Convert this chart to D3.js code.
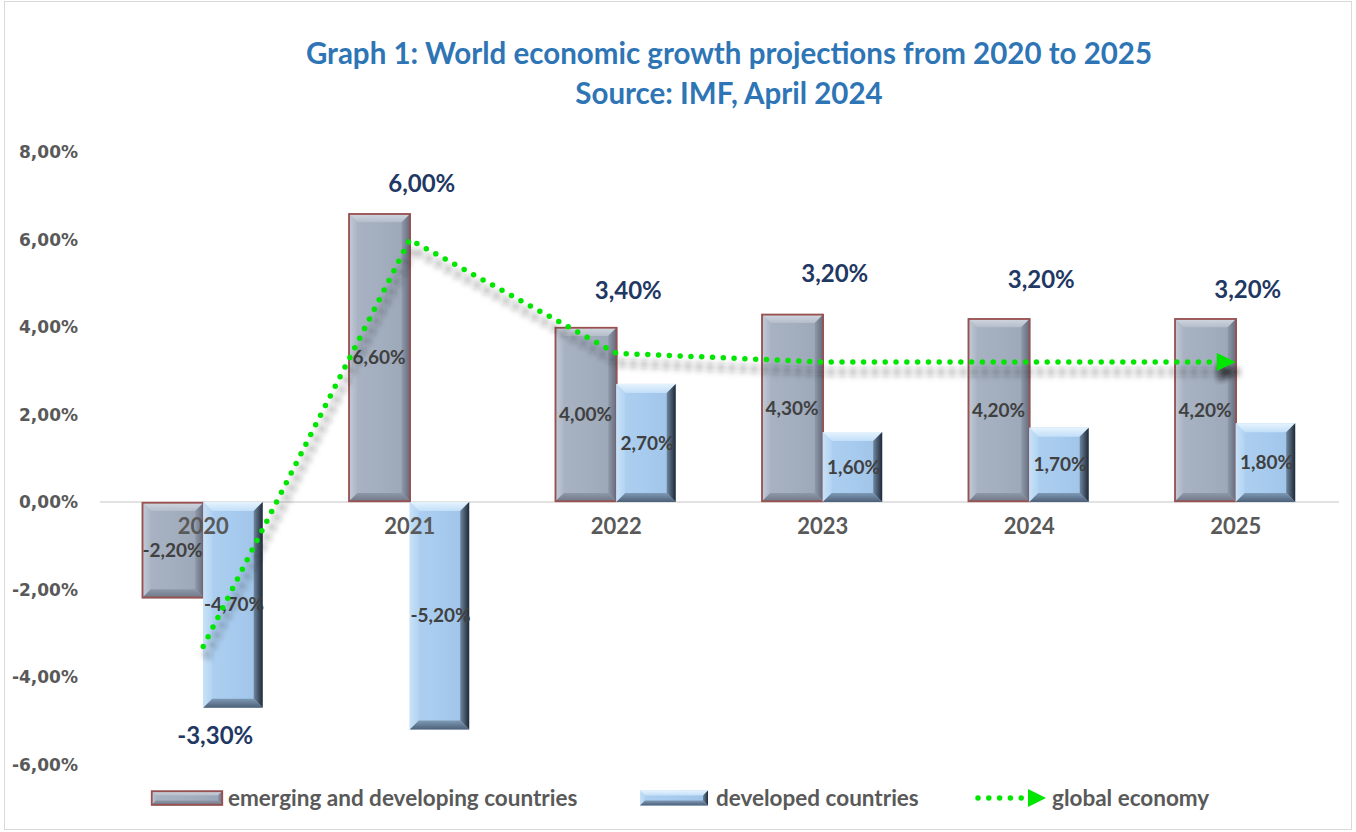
<!DOCTYPE html>
<html>
<head>
<meta charset="utf-8">
<script src="https://cdn.jsdelivr.net/npm/d3@7"></script>
<style>
  html, body { margin: 0; padding: 0; background: #fff; }
  svg { display: block; }
  text { font-family: Lato, "Open Sans", sans-serif; }
</style>
</head>
<body>
<svg id="chart" width="1356" height="832"></svg>
<script>
// ---- data ----
const years = ["2020", "2021", "2022", "2023", "2024", "2025"];
const emerging = [-2.2, 6.6, 4.0, 4.3, 4.2, 4.2];
const developed = [-4.7, -5.2, 2.7, 1.6, 1.7, 1.8];
const globalEconomy = [-3.3, 6.0, 3.4, 3.2, 3.2, 3.2];
const yTicks = [-6, -4, -2, 0, 2, 4, 6, 8];
const seriesNames = ["emerging and developing countries", "developed countries", "global economy"];
const titleLines = ["Graph 1: World economic growth projections from 2020 to 2025", "Source: IMF, April 2024"];
// label placement offsets (px) for the global economy labels
const globalLabelDy = [89, -56, -63, -88, -82, -72];

const fmt = v => (v < 0 ? "-" : "") + Math.abs(v).toFixed(2).replace(".", ",") + "%";

const svg = d3.select("#chart");
const W = 1356, H = 832;

// outer border
svg.append("rect").attr("x", 4.5).attr("y", 1.5).attr("width", W - 9).attr("height", H - 4)
  .attr("fill", "#fff").attr("stroke", "#d9d9d9").attr("stroke-width", 1);

// defs
const defs = svg.append("defs");
const sh = defs.append("filter").attr("id", "lineShadow")
  .attr("x", "-20%").attr("y", "-20%").attr("width", "140%").attr("height", "140%");
sh.append("feGaussianBlur").attr("stdDeviation", 3.2);

function hGrad(id, stops) {
  const g = defs.append("linearGradient").attr("id", id).attr("x1", 0).attr("x2", 1).attr("y1", 0).attr("y2", 0);
  stops.forEach(s => g.append("stop").attr("offset", s[0]).attr("stop-color", s[1]));
}
function vGrad(id, stops) {
  const g = defs.append("linearGradient").attr("id", id).attr("x1", 0).attr("x2", 0).attr("y1", 0).attr("y2", 1);
  stops.forEach(s => g.append("stop").attr("offset", s[0]).attr("stop-color", s[1]));
}
// emerging styles
hGrad("emBase", [[0, "#a9b3c3"], [0.5, "#a3aebf"], [1, "#9aa5b6"]]);
vGrad("emTop", [[0, "#d3d9e2"], [1, "#b4bdca"]]);
hGrad("emLeft", [[0, "#c4ccd7"], [1, "#abb5c4"]]);
hGrad("emRight", [[0, "#8f99a9"], [1, "#5f6878"]]);
vGrad("emBottom", [[0, "#8e98a8"], [1, "#6d7686"]]);
// developed styles
hGrad("dvBase", [[0, "#aed0f1"], [0.5, "#a7cbee"], [1, "#9fc3e6"]]);
vGrad("dvTop", [[0, "#e6f3fe"], [1, "#c2dff8"]]);
hGrad("dvLeft", [[0, "#c8e2f8"], [1, "#b2d3f2"]]);
hGrad("dvRight", [[0, "#6f87a0"], [1, "#1f2835"]]);
vGrad("dvBottom", [[0, "#7f9ab6"], [1, "#4d6078"]]);

// scales
const x = d3.scaleBand().domain(years).range([100, 1339]).padding(0);
const x1 = d3.scaleBand().domain([0, 1]).range([0, x.bandwidth()]).paddingInner(0).paddingOuter(0.68);
const y = d3.scaleLinear().domain([-6, 8]).range([764.5, 152]);

// zero line
svg.append("line").attr("x1", 100).attr("x2", 1339).attr("y1", y(0)).attr("y2", y(0))
  .attr("stroke", "#d9d9d9").attr("stroke-width", 1.5);

// y axis
const yAxis = d3.axisLeft(y).tickValues(yTicks).tickFormat(fmt).tickSize(0).tickPadding(0);
const ya = svg.append("g").attr("transform", "translate(78,0)").call(yAxis);
ya.select(".domain").remove();
ya.selectAll("text").attr("font-size", 17).attr("font-weight", 700).attr("fill", "#595959")
  .style("font-family", "'DejaVu Sans', Verdana, sans-serif").attr("dy", "0.35em");

// bevel bar drawing
function bevelBar(g, x0, w, v, pre, border) {
  const yt = Math.min(y(v), y(0)), yb = Math.max(y(v), y(0));
  const h = yb - yt;
  const b = Math.min(9, h / 2, w / 2);
  const x2 = x0 + w;
  g.append("rect").attr("x", x0).attr("y", yt).attr("width", w).attr("height", h).attr("fill", `url(#${pre}Base)`);
  const poly = (pts, fill) => g.append("polygon").attr("points", pts.map(p => p.join(",")).join(" ")).attr("fill", fill);
  poly([[x0, yt], [x2, yt], [x2 - b, yt + b], [x0 + b, yt + b]], `url(#${pre}Top)`);
  poly([[x0, yt], [x0 + b, yt + b], [x0 + b, yb - b], [x0, yb]], `url(#${pre}Left)`);
  poly([[x2, yt], [x2, yb], [x2 - b, yb - b], [x2 - b, yt + b]], `url(#${pre}Right)`);
  poly([[x0, yb], [x0 + b, yb - b], [x2 - b, yb - b], [x2, yb]], `url(#${pre}Bottom)`);
  if (border) {
    g.append("rect").attr("x", x0 + 0.75).attr("y", yt + 0.75).attr("width", w - 1.5).attr("height", h - 1.5)
      .attr("fill", "none").attr("stroke", border).attr("stroke-width", 1.8);
  }
}

const bars = svg.append("g");
years.forEach((yr, i) => {
  const bx = x(yr);
  bevelBar(bars, bx + x1(0), x1.bandwidth() + 1, emerging[i], "em", "#9b5050");
  bevelBar(bars, bx + x1(1), x1.bandwidth() - 2, developed[i], "dv", null);
});

// category labels
svg.append("g").selectAll("text").data(years).join("text")
  .attr("x", d => x(d) + x.bandwidth() / 2).attr("y", y(0) + 32)
  .attr("text-anchor", "middle").attr("font-size", 22).attr("font-weight", 700).attr("fill", "#595959")
  .text(d => d);

// bar value labels
const valLab = svg.append("g");
years.forEach((yr, i) => {
  [[emerging[i], 0], [developed[i], 1]].forEach(([v, s]) => {
    valLab.append("text")
      .attr("x", x(yr) + x1(s) + x1.bandwidth() / 2)
      .attr("y", (y(v) + y(0)) / 2).attr("dy", "0.35em")
      .attr("text-anchor", "middle").attr("font-size", 19).attr("font-weight", 700).attr("fill", "#404040")
      .text(fmt(v));
  });
});

// global economy line
const pts = years.map((yr, i) => [x(yr) + x.bandwidth() / 2, y(globalEconomy[i])]);
const line = d3.line();
// shadow
svg.append("path").attr("d", line(pts.map(p => [p[0] + 3, p[1] + 10])))
  .attr("fill", "none").attr("stroke", "#2a2a2a").attr("stroke-width", 7).attr("stroke-opacity", 0.6)
  .attr("stroke-dasharray", "4 7").attr("filter", "url(#lineShadow)");
// arrow shadow
const last = pts[pts.length - 1];
svg.append("polygon").attr("points", `${last[0] + 3 - 20},${last[1] + 10 - 9} ${last[0] + 3},${last[1] + 10} ${last[0] + 3 - 20},${last[1] + 10 + 9}`)
  .attr("fill", "#111").attr("opacity", 0.7).attr("filter", "url(#lineShadow)");

const linePts = pts.slice(0, -1).concat([[last[0] - 14, last[1]]]);
svg.append("path").attr("d", line(linePts))
  .attr("fill", "none").attr("stroke", "#00e600").attr("stroke-width", 5.5)
  .attr("stroke-linecap", "round").attr("stroke-dasharray", "0 10.8");
svg.append("polygon").attr("points", `${last[0] - 19},${last[1] - 9} ${last[0]},${last[1]} ${last[0] - 19},${last[1] + 9}`)
  .attr("fill", "#00e600");

// global labels
svg.append("g").selectAll("text").data(globalEconomy).join("text")
  .attr("x", (d, i) => pts[i][0] + 12).attr("y", (d, i) => pts[i][1] + globalLabelDy[i]).attr("dy", "0.35em")
  .attr("text-anchor", "middle").attr("font-size", 24).attr("font-weight", 700).attr("fill", "#1f3864")
  .text(d => fmt(d));

// title
svg.append("g").selectAll("text").data(titleLines).join("text")
  .attr("x", 729).attr("y", (d, i) => 54 + i * 40).attr("dy", "0.35em")
  .attr("text-anchor", "middle").attr("font-size", 29.5).attr("font-weight", 700).attr("fill", "#2e75b6")
  .text(d => d);

// legend
const lg = svg.append("g");
const ly = 798;
function legendSwatch(x0, w, pre, border) {
  const g = lg.append("g");
  const h = 15, yt = ly - h / 2, b = 5;
  g.append("rect").attr("x", x0).attr("y", yt).attr("width", w).attr("height", h).attr("fill", `url(#${pre}Base)`);
  const poly = (p, f) => g.append("polygon").attr("points", p.map(q => q.join(",")).join(" ")).attr("fill", f);
  const x2 = x0 + w, yb = yt + h;
  poly([[x0, yt], [x2, yt], [x2 - b, yt + b], [x0 + b, yt + b]], `url(#${pre}Top)`);
  poly([[x0, yt], [x0 + b, yt + b], [x0 + b, yb - b], [x0, yb]], `url(#${pre}Left)`);
  poly([[x2, yt], [x2, yb], [x2 - b, yb - b], [x2 - b, yt + b]], `url(#${pre}Right)`);
  poly([[x0, yb], [x0 + b, yb - b], [x2 - b, yb - b], [x2, yb]], `url(#${pre}Bottom)`);
  if (border) g.append("rect").attr("x", x0 + 0.75).attr("y", yt + 0.75).attr("width", w - 1.5).attr("height", h - 1.5)
    .attr("fill", "none").attr("stroke", border).attr("stroke-width", 1.8);
}
legendSwatch(151, 72, "em", "#9b5050");
legendSwatch(640, 68, "dv", null);
lg.append("line").attr("x1", 978).attr("x2", 1030).attr("y1", ly).attr("y2", ly)
  .attr("stroke", "#00e600").attr("stroke-width", 5.5).attr("stroke-linecap", "round").attr("stroke-dasharray", "0 10.8");
lg.append("polygon").attr("points", `1028,${ly - 9} 1046,${ly} 1028,${ly + 9}`).attr("fill", "#00e600");
const legTextX = [228, 716, 1052];
lg.selectAll("text").data(seriesNames).join("text")
  .attr("x", (d, i) => legTextX[i]).attr("y", ly).attr("dy", "0.35em")
  .attr("font-size", 22.5).attr("font-weight", 700).attr("fill", "#595959")
  .text(d => d);
</script>
</body>
</html>
